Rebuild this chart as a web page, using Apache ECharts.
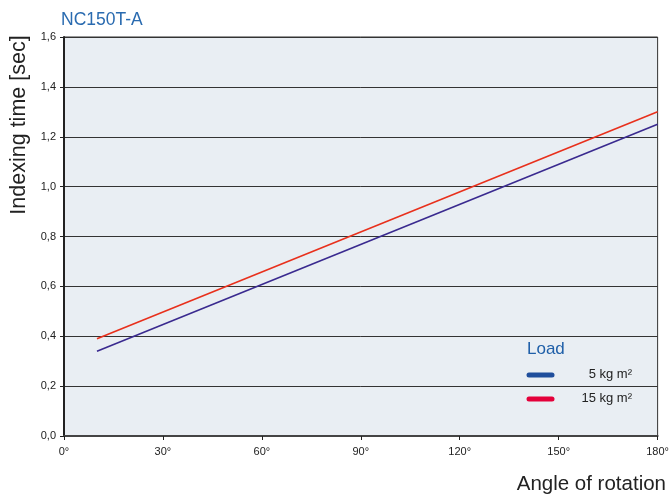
<!DOCTYPE html>
<html><head><meta charset="utf-8">
<script src="https://cdn.jsdelivr.net/npm/echarts@6/dist/echarts.min.js"></script>
<style>html,body{margin:0;padding:0;background:#fff}#c{width:672px;height:495px}</style>
</head><body><div id="c"></div>
<script>
const angles = [10, 180];
const load5 = [0.34, 1.25];
const load15 = [0.39, 1.30];
const xTicks = [0, 30, 60, 90, 120, 150, 180];
const yTicks = [0, 0.2, 0.4, 0.6, 0.8, 1.0, 1.2, 1.4, 1.6];
const seriesNames = ['5 kg m²', '15 kg m²'];

const font = '"Liberation Sans", Arial, sans-serif';
const chart = echarts.init(document.getElementById('c'));
chart.setOption({
  animation: false,
  textStyle: {fontFamily: font},
  grid: {left: 64, right: 14, top: 37, bottom: 59, show: true, backgroundColor: '#e9eef3', borderColor: '#333', borderWidth: 1},
  xAxis: {
    type: 'value', min: 0, max: 180, interval: 30,
    axisLine: {show: true, onZero: false, lineStyle: {color: '#444', width: 2}},
    axisTick: {show: true, length: 4, lineStyle: {color: '#222'}},
    axisLabel: {color: '#222', fontSize: 11, margin: 10, formatter: v => v + '°'},
    splitLine: {show: false}
  },
  yAxis: {
    type: 'value', min: 0, max: 1.6, interval: 0.2,
    axisLine: {show: true, lineStyle: {color: '#222', width: 2}},
    axisTick: {show: true, length: 4, lineStyle: {color: '#222'}},
    axisLabel: {color: '#222', fontSize: 11, margin: 8, formatter: v => v.toFixed(1).replace('.', ',')},
    splitLine: {show: true, lineStyle: {color: '#333', width: 1}}
  },
  series: [
    {name: seriesNames[0], type: 'line', symbol: 'none', data: angles.map((a, i) => [a, load5[i]]), lineStyle: {color: '#3a2a8f', width: 1.6}},
    {name: seriesNames[1], type: 'line', symbol: 'none', data: angles.map((a, i) => [a, load15[i]]), lineStyle: {color: '#e8301c', width: 1.6}}
  ],
  graphic: [
    {type: 'text', x: 61, y: 11, style: {text: 'NC150T-A', fill: '#2a6bb0', font: '17.5px ' + font, verticalAlign: 'top'}},
    {type: 'text', x: 8, y: 125, rotation: Math.PI / 2, style: {text: 'Indexing time [sec]', fill: '#222', font: '21.5px ' + font, align: 'center', verticalAlign: 'top'}},
    {type: 'text', x: 666, y: 474, style: {text: 'Angle of rotation', fill: '#222', font: '20.5px ' + font, align: 'right', verticalAlign: 'top'}},
    {type: 'text', x: 527, y: 341, style: {text: 'Load', fill: '#1f5fa8', font: '500 17px ' + font}},
    {type: 'line', shape: {x1: 529, y1: 375, x2: 552, y2: 375}, style: {stroke: '#1f4e9c', lineWidth: 5, lineCap: 'round'}},
    {type: 'line', shape: {x1: 529, y1: 399, x2: 552, y2: 399}, style: {stroke: '#e4003a', lineWidth: 5, lineCap: 'round'}},
    {type: 'text', x: 632, y: 374, style: {text: seriesNames[0], fill: '#222', font: '13px ' + font, align: 'right', verticalAlign: 'middle'}},
    {type: 'text', x: 632, y: 398, style: {text: seriesNames[1], fill: '#222', font: '13px ' + font, align: 'right', verticalAlign: 'middle'}}
  ]
});
</script></body></html>
